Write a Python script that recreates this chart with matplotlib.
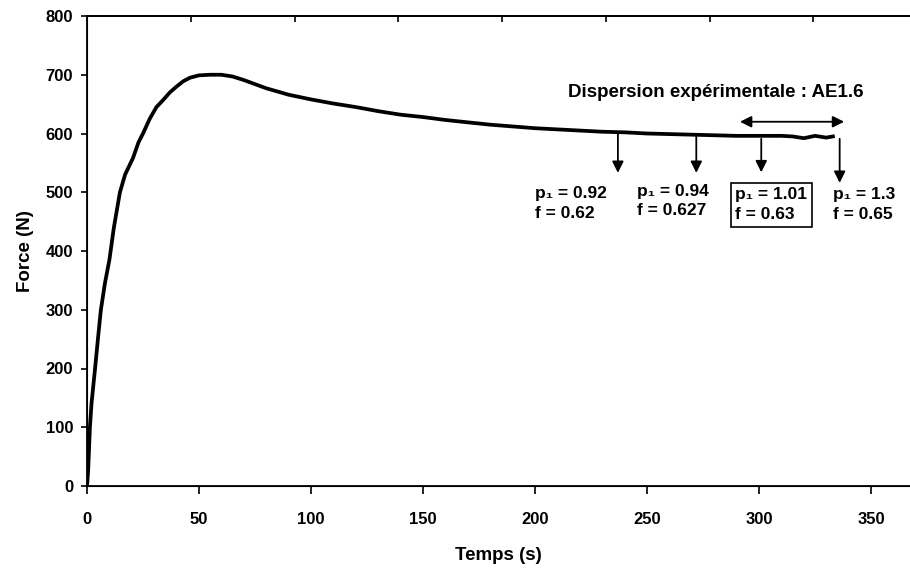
import matplotlib.pyplot as plt
import numpy as np

plt.rcParams['font.family'] = ['Liberation Sans', 'DejaVu Sans']
plt.rcParams['font.weight'] = 'bold'

# force curve
temps = [0, 0.5, 1.3, 2, 3.6, 5, 6.2, 8, 10, 12, 14.7, 17, 20.5, 23, 25, 28, 31, 34, 37,
         40, 43, 46, 50, 55, 60, 65, 70, 80, 90, 100, 110, 120, 130, 140, 150, 160, 170,
         180, 190, 200, 210, 220, 230, 240, 250, 260, 270, 280, 290, 300, 310, 315,
         320, 325, 330, 333]
force = [0, 25, 100, 140, 200, 255, 300, 345, 385, 440, 500, 530, 558, 585, 600, 625, 645,
         657, 670, 680, 689, 695, 699, 700, 700, 697, 691, 677, 666, 658, 651, 645, 638,
         632, 628, 623, 619, 615, 612, 609, 607, 605, 603, 602, 600, 599, 598, 597, 596,
         596, 596, 595, 592, 596, 593, 595]

# arrows: x, start force, end force
arrow_t = [237, 272, 301, 336]
arrow_from = [602, 596, 591, 591]
arrow_to = [533, 533, 534, 516]

labels = ["p\u2081 = 0.92\nf = 0.62", "p\u2081 = 0.94\nf = 0.627",
          "p\u2081 = 1.01\nf = 0.63", "p\u2081 = 1.3\nf = 0.65"]
label_t = [200, 245.5, 289.5, 333]
label_f = [481, 485, 479, 479]
label_ls = [1.45, 1.3, 1.45, 1.45]

disp_t = [291.5, 338]
disp_f = 620

fig = plt.figure(figsize=(9.1, 5.71), dpi=100)
ax = fig.add_axes([87/910, 1 - 486/571, 1 - 87/910, 470/571])

ax.plot(temps, force, color='black', lw=2.7, solid_joinstyle='round')

ax.set_xlim(0, 367.4)
ax.set_ylim(0, 800)
ax.set_xticks(np.arange(0, 351, 50))
ax.set_yticks(np.arange(0, 801, 100))
ax.tick_params(axis='x', direction='out', length=6, width=1.2, pad=13, labelsize=12)
ax.tick_params(axis='y', direction='out', length=4, width=1.2, pad=6, labelsize=12)
for lab in ax.get_xticklabels() + ax.get_yticklabels():
    lab.set_fontweight('bold')
ax.spines['right'].set_visible(False)
for s in ['left', 'bottom', 'top']:
    ax.spines[s].set_linewidth(1.3)

ax.set_xlabel('Temps (s)', fontsize=13.5, fontweight='bold', labelpad=14)
ax.set_ylabel('Force (N)', fontsize=13.5, fontweight='bold', labelpad=8)

# secondary top axis, ticks only
top = ax.twiny()
top.set_xlim(0, 793)
top.set_xticks(np.arange(0, 791, 100))
top.tick_params(axis='x', direction='in', length=4, width=1.2, labelbottom=False, labeltop=False)
top.spines['right'].set_visible(False)
top.spines['top'].set_linewidth(1.3)

for t, f0, f1 in zip(arrow_t, arrow_from, arrow_to):
    ax.annotate('', xy=(t, f1), xytext=(t, f0),
                arrowprops=dict(arrowstyle='-|>', color='black', lw=1.3,
                                mutation_scale=17, shrinkA=0, shrinkB=0))

ax.annotate('', xy=(disp_t[1], disp_f), xytext=(disp_t[0], disp_f),
            arrowprops=dict(arrowstyle='<|-|>', color='black', lw=1.3,
                            mutation_scale=17, shrinkA=0, shrinkB=0))

ax.text(280.5, 670, 'Dispersion expérimentale : AE1.6', fontsize=13.5,
        fontweight='bold', ha='center', va='center')

for i, (txt, t, f, ls) in enumerate(zip(labels, label_t, label_f, label_ls)):
    kw = {}
    if i == 2:
        kw['bbox'] = dict(boxstyle='square,pad=0.25', fc='white', ec='black', lw=1.2)
    ax.text(t, f, txt, fontsize=12.5, fontweight='bold', ha='left', va='center',
            linespacing=ls, **kw)

fig.savefig('out.png', dpi=100)
